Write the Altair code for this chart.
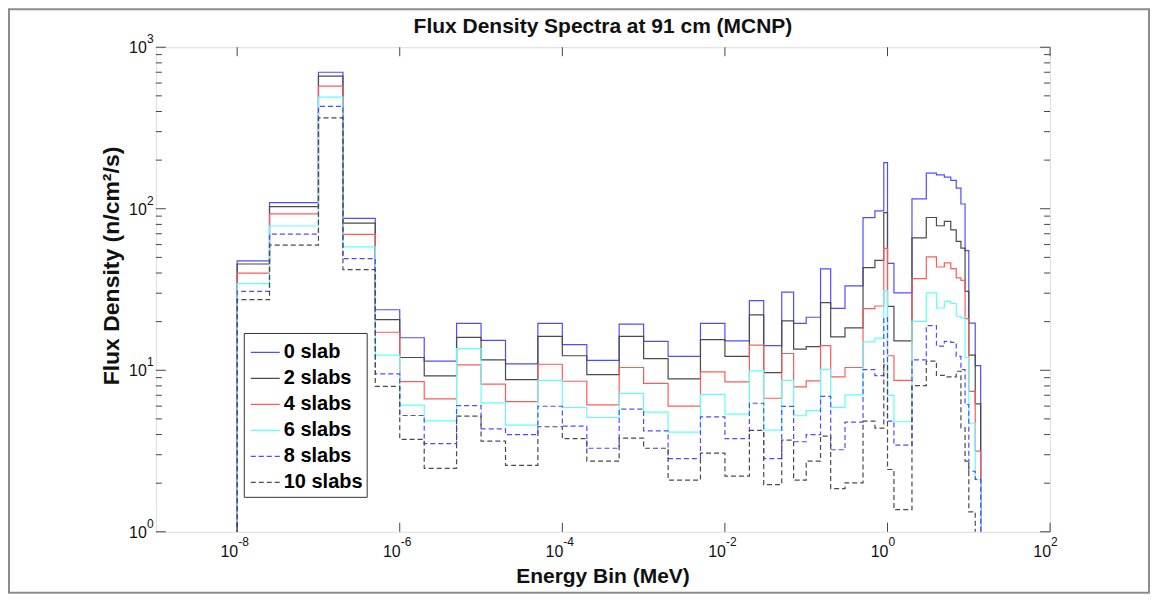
import altair as alt
import pandas as pd

# Energy bin edges (MeV)
edges = [1e-8, 2.5e-8, 1e-7, 2e-7, 5e-7, 1e-6, 2e-6, 5e-6, 1e-5, 2e-5, 5e-5,
         1e-4, 2e-4, 5e-4, 1e-3, 2e-3, 5e-3, 1e-2, 2e-2, 3e-2, 5e-2, 7e-2,
         0.1, 0.15, 0.2, 0.3, 0.5, 0.7, 0.9, 1.0, 1.2, 2.0, 3.0, 4.0, 5.0,
         6.0, 7.0, 8.0, 9.0, 10.0, 12.0, 14.0]

slab0 = [47.5, 109, 700, 87.1, 23.7, 15.9, 11.4, 19.5, 15.3, 10.95, 19.5, 14.4,
         11.5, 19.3, 15.1, 12.2, 19.5, 15.2, 27.0, 14.2, 30.5, 19.5, 21.3, 42.4,
         24.2, 33.3, 88, 97, 193, 45.9, 30.1, 115, 166, 162, 157, 150, 134, 107,
         55, 19.6, 10.7]
slab2 = [45.5, 103, 662, 81.5, 20.6, 12.0, 9.23, 16.0, 11.6, 8.75, 16.2, 12.3,
         9.4, 16.2, 11.8, 8.85, 15.5, 12.2, 22.0, 9.68, 20.2, 13.5, 14.0, 26.2,
         16.1, 18.3, 43.2, 47.9, 94.5, 24.9, 15.2, 66, 88.3, 78.5, 83.5, 74.1,
         62.8, 57.1, 30.8, 12.4, 6.2]
slab4 = [40, 93, 574, 69.4, 17.2, 8.5, 6.66, 10.8, 8.2, 6.4, 10.9, 8.55,
         6.1, 10.4, 8.3, 6.0, 9.78, 8.48, 14.3, 6.71, 12.7, 7.89, 8.6, 14.2,
         9.1, 10.4, 24.1, 25.0, 56.8, 12.3, 8.67, 36.9, 50.3, 43.6, 46.2, 42.6,
         37.3, 36.0, 20.9, 7.4, 3.16]
slab6 = [34.4, 78.2, 491, 58, 12.4, 6.08, 4.86, 13.6, 6.29, 4.57, 8.67, 5.88,
         5.1, 7.2, 5.5, 4.14, 7.1, 5.35, 9.92, 4.26, 8.67, 5.23, 5.63, 10.1,
         5.9, 7.05, 15.0, 15.8, 31.1, 7.0, 4.8, 20.1, 30.1, 24.3, 26.7, 25.9,
         21.6, 21.1, 12.0, 4.7, 2.1]
slab8 = [30.8, 69.7, 430, 49.1, 9.5, 5.25, 3.51, 6.05, 4.34, 4.0, 5.99, 4.51,
         3.29, 5.74, 4.22, 2.84, 5.15, 3.77, 6.25, 2.84, 5.97, 3.61, 4.0, 6.9,
         3.22, 4.77, 10.1, 9.27, 21.1, 4.84, 3.44, 11.6, 18.9, 14.1, 15.1, 14.9,
         12.2, 10.1, 6.14, 2.37, 2.11]
slab10 = [27.4, 59.6, 365, 42, 7.96, 3.73, 2.47, 5.2, 3.64, 2.58, 4.47, 3.77,
          2.74, 3.8, 3.29, 2.09, 3.07, 2.21, 4.24, 1.96, 3.69, 2.09, 2.74, 3.91,
          1.85, 2.01, 4.84, 4.38, 10.8, 2.43, 1.37, 8.04, 11.4, 9.3, 9.1, 9.1,
          9.86, 4.4, 2.74, 1.33, 0.5]

series_names = ["0 slab", "2 slabs", "4 slabs", "6 slabs", "8 slabs", "10 slabs"]
series_values = [slab0, slab2, slab4, slab6, slab8, slab10]
series_colors = ["#4d4dff", "#4a4a4a", "#ff5a5a", "#5cffff", "#4d4dff", "#4a4a4a"]
series_dash = [[1, 0], [1, 0], [1, 0], [1, 0], [5, 3], [5, 3]]

title_text = "Flux Density Spectra at 91 cm (MCNP)"
x_title = "Energy Bin (MeV)"
y_title = "Flux Density (n/cm²/s)"

# tick labels: base and exponent
xtick_vals = [1e-8, 1e-6, 1e-4, 1e-2, 1e0, 1e2]
xtick_exp = ["-8", "-6", "-4", "-2", "0", "2"]
ytick_vals = [1, 10, 100, 1000]
ytick_exp = ["0", "1", "2", "3"]

floor_value = 0.01  # below the axis: drawn as a drop to the bottom

rows = []
for name, vals in zip(series_names, series_values):
    order = 0
    rows.append({"series": name, "E": edges[0], "flux": floor_value, "o": order}); order += 1
    for e, v in zip(edges[:-1], vals):
        rows.append({"series": name, "E": e, "flux": v, "o": order}); order += 1
    rows.append({"series": name, "E": edges[-1], "flux": floor_value, "o": order})
df = pd.DataFrame(rows)

W, H = 895, 485
FONT = "Liberation Sans"

xscale = alt.Scale(type="log", domain=[1e-9, 1e2])
yscale = alt.Scale(type="log", domain=[1, 1000])

lines = alt.Chart(df).mark_line(interpolate="step-after", strokeWidth=1.2, clip=True).encode(
    x=alt.X("E:Q", scale=xscale, axis=None),
    y=alt.Y("flux:Q", scale=yscale, axis=None),
    color=alt.Color("series:N", scale=alt.Scale(domain=series_names, range=series_colors),
                    legend=alt.Legend(title=None, orient="none", legendX=88, legendY=286,
                                      symbolType="stroke", symbolSize=841, symbolStrokeWidth=1.2,
                                      symbolOffset=2,
                                      labelFont=FONT, labelFontSize=20,
                                      labelFontWeight="bold", labelColor="#000",
                                      strokeColor="#333", fillColor="white", padding=4,
                                      rowPadding=-3, labelOffset=3)),
    strokeDash=alt.StrokeDash("series:N", scale=alt.Scale(domain=series_names, range=series_dash),
                              legend=None),
    order="o:Q",
)

# inward ticks (MATLAB style)
minor_y = [m * 10 ** d for d in range(0, 3) for m in range(2, 10)]
ytick_df = pd.DataFrame({"v": ytick_vals, "e": ytick_exp})
yminor_df = pd.DataFrame({"v": minor_y})
xtick_df = pd.DataFrame({"v": xtick_vals, "e": xtick_exp})

TC = "#444"
ymaj_l = alt.Chart(ytick_df).mark_rule(color=TC, strokeWidth=1).encode(
    y=alt.Y("v:Q", scale=yscale, axis=None), x=alt.value(0), x2=alt.value(10))
ymaj_r = alt.Chart(ytick_df).mark_rule(color=TC, strokeWidth=1).encode(
    y=alt.Y("v:Q", scale=yscale, axis=None), x=alt.value(W - 10), x2=alt.value(W))
ymin_l = alt.Chart(yminor_df).mark_rule(color=TC, strokeWidth=1).encode(
    y=alt.Y("v:Q", scale=yscale, axis=None), x=alt.value(0), x2=alt.value(6))
ymin_r = alt.Chart(yminor_df).mark_rule(color=TC, strokeWidth=1).encode(
    y=alt.Y("v:Q", scale=yscale, axis=None), x=alt.value(W - 6), x2=alt.value(W))
xt_b = alt.Chart(xtick_df).mark_rule(color=TC, strokeWidth=1).encode(
    x=alt.X("v:Q", scale=xscale, axis=None), y=alt.value(H - 9), y2=alt.value(H))
xt_t = alt.Chart(xtick_df).mark_rule(color=TC, strokeWidth=1).encode(
    x=alt.X("v:Q", scale=xscale, axis=None), y=alt.value(0), y2=alt.value(9))

# tick labels "10" with superscript exponent
xl_base = alt.Chart(xtick_df).mark_text(font=FONT, fontSize=16, align="right",
                                        baseline="alphabetic", dx=1, color="#111").encode(
    x=alt.X("v:Q", scale=xscale, axis=None), y=alt.value(H + 25), text=alt.value("10"))
xl_exp = alt.Chart(xtick_df).mark_text(font=FONT, fontSize=12, align="left",
                                       baseline="alphabetic", dx=1, color="#111").encode(
    x=alt.X("v:Q", scale=xscale, axis=None), y=alt.value(H + 14), text="e:N")
yl_base = alt.Chart(ytick_df).mark_text(font=FONT, fontSize=16, align="right",
                                        baseline="alphabetic", dy=6, color="#111").encode(
    y=alt.Y("v:Q", scale=yscale, axis=None), x=alt.value(-9), text=alt.value("10"))
yl_exp = alt.Chart(ytick_df).mark_text(font=FONT, fontSize=12, align="left",
                                       baseline="alphabetic", dy=-4, color="#111").encode(
    y=alt.Y("v:Q", scale=yscale, axis=None), x=alt.value(-9), text="e:N")

# titles as text
texts_df = pd.DataFrame({"t": [title_text], "xt": [x_title], "yt": [y_title]})
title = alt.Chart(texts_df).mark_text(
    font=FONT, fontSize=21, fontWeight="bold", align="center", baseline="alphabetic",
    color="#111").encode(x=alt.value(W / 2), y=alt.value(-14), text="t:N")
xtitle = alt.Chart(texts_df).mark_text(
    font=FONT, fontSize=21, fontWeight="bold", align="center", baseline="alphabetic",
    color="#111").encode(x=alt.value(W / 2), y=alt.value(H + 51), text="xt:N")
ytitle = alt.Chart(texts_df).mark_text(
    font=FONT, fontSize=23, fontWeight="bold", align="center", baseline="middle",
    angle=270, color="#111").encode(x=alt.value(-44), y=alt.value(219), text="yt:N")

# outer figure frame
frame = alt.Chart(pd.DataFrame({"k": [0]})).mark_rect(
    fill=None, stroke="#8c8c8c", strokeWidth=2, clip=False).encode(
    x=alt.value(-147), x2=alt.value(W + 99), y=alt.value(-38), y2=alt.value(H + 61))

chart = alt.layer(frame, lines, ymaj_l, ymaj_r, ymin_l, ymin_r, xt_b, xt_t,
                  xl_base, xl_exp, yl_base, yl_exp, title, xtitle, ytitle).resolve_scale(
    color="independent", strokeDash="independent"
).properties(
    width=W, height=H,
    autosize=alt.AutoSizeParams(type="none"),
    padding={"left": 148, "top": 39, "right": 102, "bottom": 65},
).configure_view(stroke="#444", strokeWidth=1).configure(background="white")

chart.save("out.html", embed_options={"renderer": "svg", "actions": False})
